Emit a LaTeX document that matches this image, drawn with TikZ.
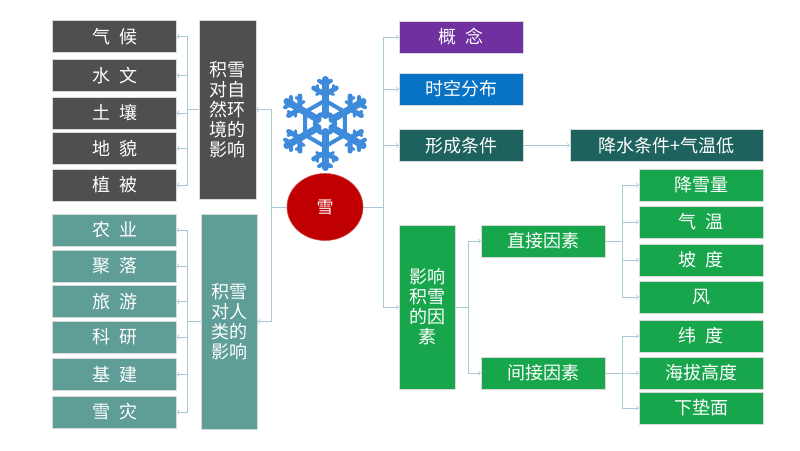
\documentclass[tikz,border=0pt]{standalone}
\usepackage{fontspec}
\setmainfont{Noto Sans CJK SC}
\usetikzlibrary{shapes.geometric}
\definecolor{darkbox}{HTML}{4F4F4F}
\definecolor{tealbox}{HTML}{5E9E97}
\definecolor{conbox}{HTML}{7030A0}
\definecolor{distbox}{HTML}{0872C4}
\definecolor{formbox}{HTML}{1D625E}
\definecolor{facbox}{HTML}{18A64D}
\definecolor{snowred}{HTML}{C00000}
\definecolor{flakeblue}{HTML}{3D8BDA}
\definecolor{linkcol}{HTML}{A6CAD4}
\newcommand{\csp}{\hspace{.5em}}

\begin{document}
\begin{tikzpicture}[x=1pt,y=-1pt,
    box/.style={text=white,font=\fontsize{18}{20}\selectfont,align=center,
      inner sep=0pt,minimum width=124pt,minimum height=32pt,draw=white!70!gray,line width=.4pt},
    link/.style={draw=linkcol,line width=.8pt},
    flake/.style={draw=flakeblue,line cap=round,line join=round}]
  \useasboundingbox[fill=white] (0,0) rectangle (800,450);
  % left: nature
  \node[box,fill=darkbox] (qh) at (114.5,36.5) {气\csp 候};
  \node[box,fill=darkbox] (sw) at (114.5,75.5) {水\csp 文};
  \node[box,fill=darkbox] (tr) at (114.5,113) {土\csp 壤};
  \node[box,fill=darkbox] (dm) at (114.5,148.5) {地\csp 貌};
  \node[box,fill=darkbox] (zb) at (114.5,185) {植\csp 被};
  \node[box,fill=darkbox,minimum width=57pt,minimum height=179pt] (nature) at (227.5,109.5)
    {积雪\\对自\\然环\\境的\\影响};
  % left: humans
  \node[box,fill=tealbox] (ny) at (114.5,230) {农\csp 业};
  \node[box,fill=tealbox] (jl) at (114.5,266) {聚\csp 落};
  \node[box,fill=tealbox] (ly) at (114.5,301.5) {旅\csp 游};
  \node[box,fill=tealbox] (ky) at (114.5,337) {科\csp 研};
  \node[box,fill=tealbox] (jj) at (114.5,374.5) {基\csp 建};
  \node[box,fill=tealbox] (xz) at (114.5,412) {雪\csp 灾};
  \node[box,fill=tealbox,minimum width=56pt,minimum height=215pt] (human) at (229,321.5)
    {积雪\\对人\\类的\\影响};
  % centre
  \node[ellipse,fill=snowred,draw=snowred!70!white,line width=.6pt,text=white,
    minimum width=76pt,minimum height=67pt,font=\fontsize{17}{17}\selectfont] (snow) at (325,207) {雪};
  \begin{scope}[shift={(325,123.5)},flake]
    \foreach \a in {90,150,...,390} {
      \begin{scope}[rotate=\a]
        \draw[line width=7pt] (8,0) -- (44,0);
        \draw[line width=5pt] (29,0) -- ++(60:13) (29,0) -- ++(-60:13);
        \draw[line width=4pt] (39,0) -- ++(58:7) (39,0) -- ++(-58:7);
        \draw[line width=3pt] (33,8) -- ++(0:5) (33,-8) -- ++(0:5);
        \draw[line width=3pt] (31,5) -- ++(120:4) (31,-5) -- ++(-120:4);
      \end{scope}
    }
    \draw[line width=5pt] (0:10) -- (60:10) -- (120:10) -- (180:10) -- (240:10) -- (300:10) -- cycle;
    \draw[line width=4pt] (30:23) -- (90:23) -- (150:23) -- (210:23) -- (270:23) -- (330:23) -- cycle;
  \end{scope}
  % right
  \node[box,fill=conbox] (gn) at (461,37) {概\csp 念};
  \node[box,fill=distbox] (sk) at (461,89) {时空分布};
  \node[box,fill=formbox] (xc) at (461,145.5) {形成条件};
  \node[box,fill=formbox,minimum width=193pt] (js) at (666.5,145.5) {降水条件+气温低};
  \node[box,fill=facbox,minimum width=56pt,minimum height=164pt] (yx) at (427,307)
    {影响\\积雪\\的因\\素};
  \node[box,fill=facbox] (zj) at (543,241) {直接因素};
  \node[box,fill=facbox] (jjys) at (543,373) {间接因素};
  \node[box,fill=facbox] (xxl) at (701,185) {降雪量};
  \node[box,fill=facbox] (qw) at (701,222) {气\csp 温};
  \node[box,fill=facbox] (pd) at (701,260) {坡\csp 度};
  \node[box,fill=facbox] (f) at (701,297) {风};
  \node[box,fill=facbox] (wd) at (701,336) {纬\csp 度};
  \node[box,fill=facbox] (hb) at (701,373) {海拔高度};
  \node[box,fill=facbox] (xdm) at (701,408) {下垫面};
  % connectors
  \draw[link] (snow.west) -- ++(-15,0) coordinate (sl);
  \draw[link] (snow.east) -- ++(20,0) coordinate (sr);
  \foreach \n in {nature,human}
    \draw[link,->] (sl) |- (\n.east);
  \foreach \n in {qh,sw,tr,dm,zb}
    \draw[link,->] (nature.west) -- ++(-11,0) |- (\n.east);
  \foreach \n in {ny,jl,ly,ky,jj,xz}
    \draw[link,->] (human.west) -- ++(-13,0) |- (\n.east);
  \foreach \n in {gn,sk,xc,yx}
    \draw[link,->] (sr) |- (\n.west);
  \draw[link,->] (xc) -- (js);
  \foreach \n in {zj,jjys}
    \draw[link,->] (yx.east) -- ++(13,0) |- (\n.west);
  \foreach \n in {xxl,qw,pd,f}
    \draw[link,->] (zj.east) -- ++(17,0) |- (\n.west);
  \foreach \n in {wd,hb,xdm}
    \draw[link,->] (jjys.east) -- ++(17,0) |- (\n.west);
\end{tikzpicture}
\end{document}
